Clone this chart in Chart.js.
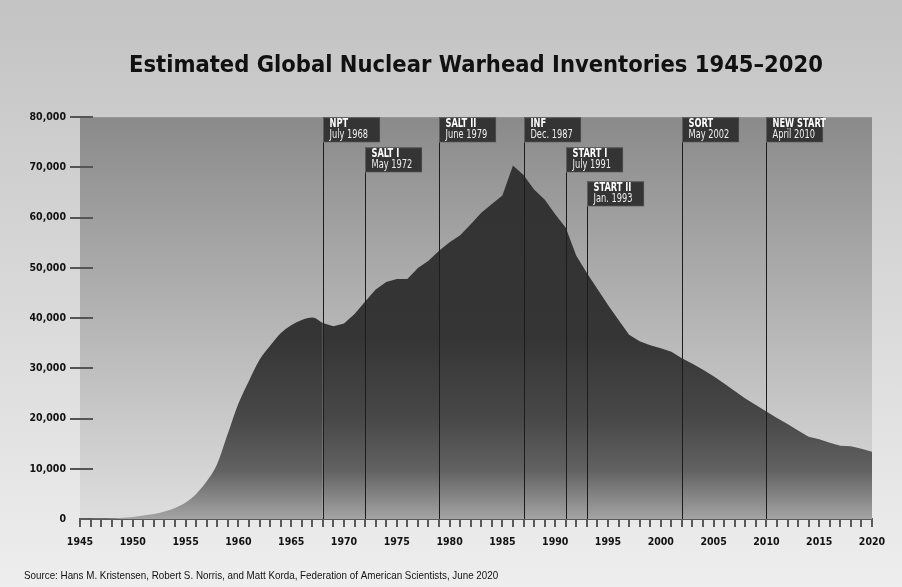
<!DOCTYPE html>
<html><head><meta charset="utf-8">
<script src="https://cdn.jsdelivr.net/npm/chart.js@4.4.1/dist/chart.umd.min.js"></script>
<style>html,body{margin:0;padding:0;background:#e6e6e6;}canvas{display:block;}</style>
</head><body>
<canvas id="c" width="902" height="587"></canvas>
<script>
const years = [1945,1946,1947,1948,1949,1950,1951,1952,1953,1954,1955,1956,1957,1958,1959,1960,1961,1962,1963,1964,1965,1966,1967,1968,1969,1970,1971,1972,1973,1974,1975,1976,1977,1978,1979,1980,1981,1982,1983,1984,1985,1986,1987,1988,1989,1990,1991,1992,1993,1994,1995,1996,1997,1998,1999,2000,2001,2002,2003,2004,2005,2006,2007,2008,2009,2010,2011,2012,2013,2014,2015,2016,2017,2018,2019,2020];
const warheads = [0,20,50,100,250,400,700,1000,1500,2200,3300,5000,7500,11000,17000,23000,27500,31700,34500,37000,38600,39600,40100,39000,38400,38900,40800,43300,45700,47200,47800,47800,50000,51400,53400,55100,56500,58700,61000,62700,64400,70400,68500,65600,63600,60700,58000,52400,49000,45800,42600,39600,36700,35400,34600,34000,33300,32000,30900,29700,28400,27000,25500,24000,22700,21400,20100,18900,17600,16400,15900,15200,14600,14500,14000,13400];
const yTickValues = [0,10000,20000,30000,40000,50000,60000,70000,80000];
const xLabelYears = [1945,1950,1955,1960,1965,1970,1975,1980,1985,1990,1995,2000,2005,2010,2015,2020];
const treatyNames = ['NPT','SALT I','SALT II','INF','START I','START II','SORT','NEW START'];
const treatyDates = ['July 1968','May 1972','June 1979','Dec. 1987','July 1991','Jan. 1993','May 2002','April 2010'];
const treatyYears = [1968,1972,1979,1987,1991,1993,2002,2010];
const titleText = 'Estimated Global Nuclear Warhead Inventories 1945\u20132020';
const sourceText = 'Source: Hans M. Kristensen, Robert S. Norris, and Matt Korda, Federation of American Scientists, June 2020';

const NARROW = "'Liberation Sans Narrow','Arial Narrow','DejaVu Sans Condensed',sans-serif";
const REG = "'Liberation Sans',Arial,sans-serif";
const labelRowOffsets = [0,30,0,0,30,64,0,0];
const smoothUntil = 1968; // early build-up drawn smooth, later years straight segments

function fillGradient(ctx){
  const a = ctx.chart.chartArea;
  if(!a) return '#333';
  const g = ctx.chart.ctx.createLinearGradient(0,a.top,0,a.bottom);
  g.addColorStop(0,'#323232');
  g.addColorStop(0.55,'#353535');
  g.addColorStop(0.75,'#484848');
  g.addColorStop(0.88,'#626262');
  g.addColorStop(1,'#a4a4a4');
  return g;
}

const bgPlugin = {
  id:'bg',
  beforeDraw(chart){
    const {ctx,width,height,chartArea:a} = chart;
    ctx.save();
    let g = ctx.createLinearGradient(0,0,0,height);
    g.addColorStop(0,'#c3c3c3'); g.addColorStop(1,'#eeeeee');
    ctx.fillStyle = g; ctx.fillRect(0,0,width,height);
    g = ctx.createLinearGradient(0,a.top,0,a.bottom);
    g.addColorStop(0,'#8a8a8a'); g.addColorStop(1,'#dedede');
    ctx.fillStyle = g; ctx.fillRect(a.left,a.top,a.right-a.left,a.bottom-a.top);
    ctx.restore();
  }
};

function condensedText(ctx,text,x,y,sx){
  ctx.save();
  ctx.translate(x,y);
  ctx.scale(sx,1);
  ctx.fillText(text,0,0);
  ctx.restore();
}

const overlayPlugin = {
  id:'overlay',
  afterDatasetsDraw(chart){
    const {ctx,chartArea:a,scales} = chart;
    const xs = scales.x, ys = scales.y;
    ctx.save();
    ctx.strokeStyle = '#555'; ctx.lineWidth = 2;
    yTickValues.forEach(v=>{
      if(v===0) return;
      const y = Math.round(ys.getPixelForValue(v));
      ctx.beginPath(); ctx.moveTo(a.left-1,y); ctx.lineTo(a.left+13,y); ctx.stroke();
    });
    treatyYears.forEach((yr,i)=>{
      const x = Math.round(xs.getPixelForValue(yr))+0.5;
      const top = a.top + labelRowOffsets[i];
      ctx.strokeStyle = '#1c1c1c'; ctx.lineWidth = 1;
      ctx.beginPath(); ctx.moveTo(x,top); ctx.lineTo(x,a.bottom); ctx.stroke();
      ctx.fillStyle = '#343434';
      ctx.fillRect(x-0.5,top,57,25);
      ctx.strokeStyle = 'rgba(130,130,130,0.55)';
      ctx.strokeRect(x,top+0.5,56.5,24.5);
      ctx.textBaseline = 'middle'; ctx.textAlign = 'left';
      ctx.fillStyle = '#ffffff';
      ctx.font = "bold 11.5px " + NARROW;
      condensedText(ctx,treatyNames[i],x+6,top+7,0.8);
      ctx.fillStyle = '#eeeeee';
      ctx.font = "11.5px " + NARROW;
      condensedText(ctx,treatyDates[i],x+6,top+18,0.8);
    });
    ctx.restore();
  },
  afterDraw(chart){
    const {ctx} = chart;
    ctx.save();
    ctx.fillStyle = '#111';
    ctx.font = "10.5px " + REG;
    ctx.textBaseline = 'middle'; ctx.textAlign = 'left';
    condensedText(ctx,sourceText,24,576,0.935);
    ctx.restore();
  }
};

const points = years.map((y,i)=>({x:y,y:warheads[i]}));
const earlyPoints = points.filter(p=>p.x<=smoothUntil);
const latePoints = points.filter(p=>p.x>=smoothUntil);

const common = {fill:'origin',borderWidth:0,borderColor:'rgba(0,0,0,0)',pointRadius:0,backgroundColor:fillGradient};

new Chart(document.getElementById('c'),{
  type:'line',
  data:{datasets:[
    Object.assign({label:'Warheads (to 1968)',data:earlyPoints,cubicInterpolationMode:'monotone'},common),
    Object.assign({label:'Warheads (from 1968)',data:latePoints,tension:0},common)
  ]},
  options:{
    responsive:false,
    animation:false,
    devicePixelRatio:1,
    layout:{padding:{left:0,right:30,top:0,bottom:0}},
    plugins:{
      legend:{display:false},
      tooltip:{enabled:false},
      title:{display:true,text:titleText,fullSize:false,color:'#111',
        font:{family:NARROW,size:23.5,weight:'bold'},padding:{top:52,bottom:37}}
    },
    scales:{
      x:{type:'linear',min:1945,max:2020,
        afterFit(s){s.height=68;},
        border:{display:true,color:'#5a5a5a',width:2},
        grid:{drawOnChartArea:false,drawTicks:true,tickLength:8,color:'#5a5a5a',lineWidth:2},
        ticks:{stepSize:1,autoSkip:false,maxRotation:0,minRotation:0,padding:9,color:'#111',
          font:{family:NARROW,size:10.5,weight:'bold'},
          callback(v){return xLabelYears.includes(v)?String(v):'';}}
      },
      y:{min:0,max:80000,
        afterFit(s){s.width=80;},
        border:{display:false},
        grid:{drawOnChartArea:false,drawTicks:true,tickLength:10,lineWidth:2,
          color(c){return c.tick && c.tick.value===0?'rgba(0,0,0,0)':'#555';}},
        afterBuildTicks(s){s.ticks=yTickValues.map(v=>({value:v}));},
        ticks:{padding:4,color:'#111',font:{family:NARROW,size:10.5,weight:'bold'},
          callback(v){return v.toLocaleString('en-US');}}
      }
    }
  },
  plugins:[bgPlugin,overlayPlugin]
});
</script>
</body></html>
